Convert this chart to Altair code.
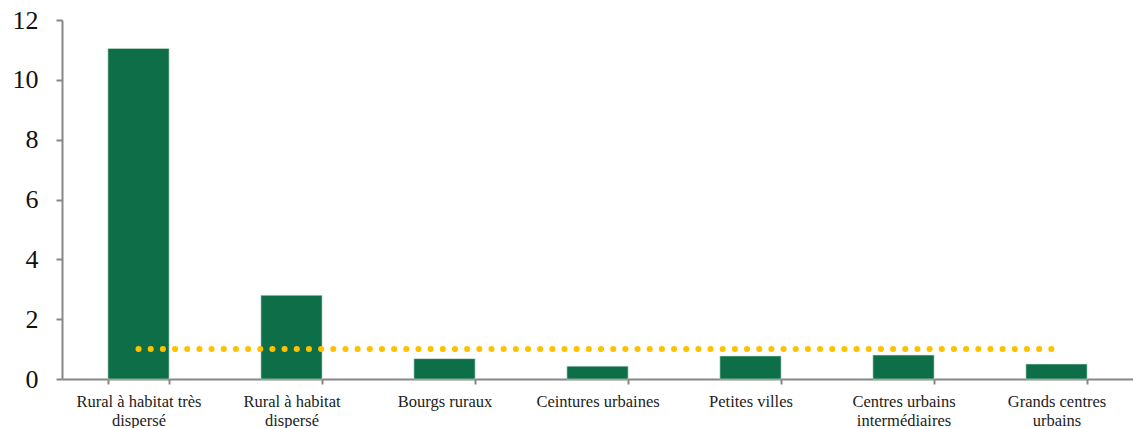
import altair as alt
import pandas as pd

# Categories of territory (line breaks mark the two-line axis labels)
categories = [
    "Rural à habitat très\ndispersé",
    "Rural à habitat\ndispersé",
    "Bourgs ruraux",
    "Ceintures urbaines",
    "Petites villes",
    "Centres urbains\nintermédiaires",
    "Grands centres\nurbains",
]
values = [11.05, 2.8, 0.68, 0.43, 0.77, 0.8, 0.5]
reference = [1, 1, 1, 1, 1, 1, 1]

df = pd.DataFrame({"cat": categories, "value": values, "ref": reference})

GREEN = "#0E6E48"
GOLD = "#FFC000"
AXIS = "#878787"
FONT = "Liberation Serif"

x_enc = alt.X(
    "cat:N",
    sort=categories,
    title=None,
    scale=alt.Scale(paddingInner=0.6, paddingOuter=0.3),
    axis=alt.Axis(
        labelExpr="split(datum.label, '\\n')",
        labelAngle=0,
        labelFontSize=16.5,
        labelFont=FONT,
        labelColor="#222222",
        labelPadding=9,
        labelLineHeight=19,
        tickBand="extent",
        tickSize=5,
        tickColor=AXIS,
        domainColor=AXIS,
        domainWidth=2,
        tickWidth=2,
    ),
)

y_enc = alt.Y(
    "value:Q",
    title=None,
    scale=alt.Scale(domain=[0, 12], nice=False),
    axis=alt.Axis(
        values=[0, 2, 4, 6, 8, 10, 12],
        grid=False,
        labelFontSize=26,
        labelFont=FONT,
        labelColor="#111111",
        labelPadding=18,
        tickSize=6,
        tickColor=AXIS,
        domainColor=AXIS,
        domainWidth=2,
        tickWidth=2,
    ),
)

bars = alt.Chart(df).mark_bar(color=GREEN, stroke="#CFE3D8", strokeWidth=0.6).encode(
    x=x_enc, y=y_enc
)

# Dotted reference level across the categories
ref_line = alt.Chart(df).mark_line(
    color=GOLD, strokeWidth=6, strokeCap="round", strokeDash=[0.1, 12.07]
).encode(
    x=alt.X("cat:N", sort=categories),
    y=alt.Y("ref:Q"),
)

chart = (
    alt.layer(bars, ref_line)
    .properties(
        width=1071,
        height=359,
        background="white",
        autosize=alt.AutoSizeParams(type="none"),
        padding={"left": 62, "top": 20, "right": 0, "bottom": 49},
    )
    .configure_view(stroke=None, strokeWidth=0)
    .configure_axis(grid=False)
)

chart.save("out.html", embed_options={"renderer": "svg", "actions": False})
